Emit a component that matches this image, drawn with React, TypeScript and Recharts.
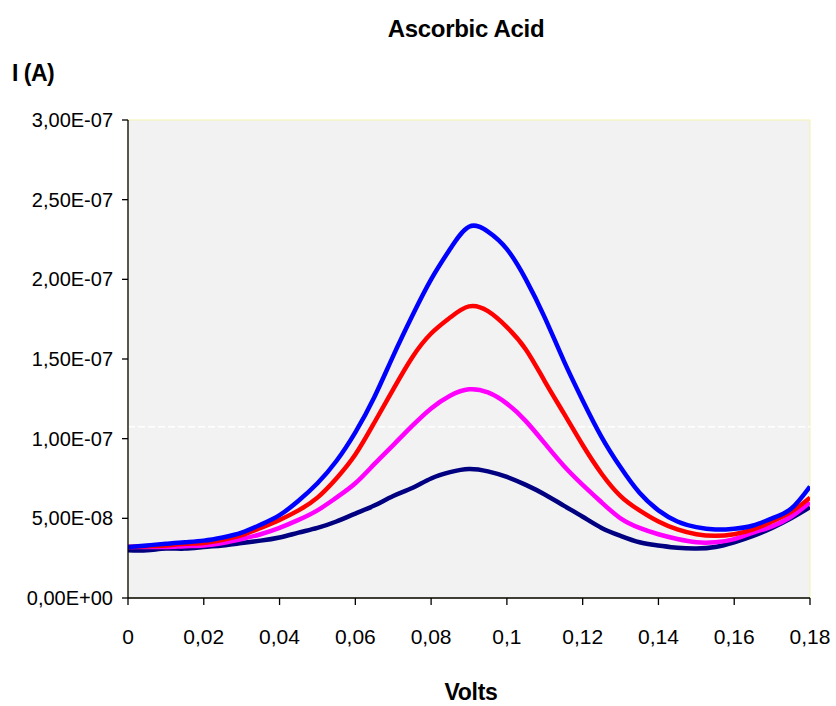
/**
 * Ascorbic Acid — voltammogram curves, current (A) vs potential (V).
 */
import { LineChart, Line, XAxis, YAxis, CartesianGrid, ReferenceArea, ReferenceLine } from 'recharts'

// values; currents in units of 1e-8 A
const UNIT = 1e-8

const VOLTS = [
  0, 0.005, 0.01, 0.015, 0.02, 0.025, 0.03, 0.035, 0.04, 0.045,
  0.05, 0.055, 0.06, 0.065, 0.07, 0.075, 0.08, 0.085, 0.09, 0.095,
  0.1, 0.105, 0.11, 0.115, 0.12, 0.125, 0.13, 0.135, 0.14, 0.145,
  0.15, 0.155, 0.16, 0.165, 0.17, 0.175, 0.18,
]

const BLUE = [
  3.2, 3.3, 3.4, 3.5, 3.6, 3.8, 4.1, 4.6, 5.2, 6.1,
  7.2, 8.6, 10.4, 12.6, 15.2, 17.7, 20.0, 21.9, 23.3, 23.0,
  21.9, 20.0, 17.6, 14.9, 12.4, 10.1, 8.2, 6.6, 5.5, 4.8,
  4.45, 4.3, 4.35, 4.55, 5.0, 5.6, 7.0,
]

const RED = [
  3.2, 3.25, 3.3, 3.4, 3.45, 3.65, 3.95, 4.4, 4.9, 5.5,
  6.3, 7.5, 9.0, 11.0, 13.1, 15.1, 16.6, 17.6, 18.3, 18.0,
  17.0, 15.6, 13.6, 11.6, 9.6, 7.8, 6.4, 5.5, 4.8, 4.3,
  4.0, 3.9, 4.0, 4.3, 4.8, 5.4, 6.3,
]

const MAGENTA = [
  3.2, 3.2, 3.2, 3.25, 3.3, 3.45, 3.7, 4.0, 4.4, 4.9,
  5.5, 6.3, 7.2, 8.4, 9.6, 10.8, 11.9, 12.7, 13.1, 12.9,
  12.2, 11.1, 9.7, 8.3, 7.1, 6.0, 5.0, 4.4, 4.0, 3.7,
  3.5, 3.5, 3.7, 4.1, 4.5, 5.1, 6.0,
]

const NAVY = [
  3.0, 3.0, 3.1, 3.1, 3.2, 3.3, 3.45, 3.6, 3.8, 4.1,
  4.4, 4.8, 5.3, 5.8, 6.4, 6.9, 7.5, 7.9, 8.1, 7.95,
  7.6, 7.1, 6.5, 5.8, 5.1, 4.4, 3.9, 3.5, 3.3, 3.15,
  3.1, 3.2, 3.5, 3.9, 4.4, 5.0, 5.7,
]

const X_TICKS = [0, 0.02, 0.04, 0.06, 0.08, 0.1, 0.12, 0.14, 0.16, 0.18]
const Y_TICKS = [0, 5e-8, 1e-7, 1.5e-7, 2e-7, 2.5e-7, 3e-7]

const data = VOLTS.map((v, i) => ({
  v,
  blue: BLUE[i] * UNIT,
  red: RED[i] * UNIT,
  magenta: MAGENTA[i] * UNIT,
  navy: NAVY[i] * UNIT,
}))

const FONT = '"Liberation Sans", Arial, sans-serif'

// 3e-7 -> "3,00E-07"
const fmtSci = (v: number) => {
  const [m, e] = v.toExponential(2).split('e')
  const sign = e[0] === '-' ? '-' : '+'
  const digits = e.replace(/[+-]/, '').padStart(2, '0')
  return `${m.replace('.', ',')}E${sign}${digits}`
}

const fmtVolts = (v: number) => String(Number(v.toFixed(2))).replace('.', ',')

export default function App() {
  return (
    <div style={{ position: 'absolute', left: 0, top: 0, width: 836, height: 706, background: '#fff', fontFamily: FONT }}>
      <div style={{ position: 'absolute', left: 0, width: 932, top: 17, textAlign: 'center', fontSize: 24, fontWeight: 700, lineHeight: 1, letterSpacing: -0.3 }}>
        Ascorbic Acid
      </div>
      <div style={{ position: 'absolute', left: 12, top: 62, fontSize: 23, fontWeight: 700, lineHeight: 1, letterSpacing: -0.5 }}>
        I (A)
      </div>
      <div style={{ position: 'absolute', left: 0, width: 942, top: 681, textAlign: 'center', fontSize: 23, fontWeight: 700, lineHeight: 1, letterSpacing: -0.3 }}>
        Volts
      </div>

      <LineChart width={836} height={706} data={data} margin={{ top: 120, right: 26, bottom: 0, left: 0 }}>
        <CartesianGrid horizontal={false} vertical={false} fill="#f2f2f2" />
        <ReferenceArea x1={0} x2={0.18} y1={0} y2={3e-7} fill="#f2f2f2" fillOpacity={1} stroke="#f3f3b0" strokeWidth={1} />
        <ReferenceLine
          segment={[{ x: 0, y: 1.075e-7 }, { x: 0.18, y: 1.075e-7 }]}
          stroke="#ffffff"
          strokeWidth={1.5}
          strokeDasharray="7 3"
        />
        <XAxis
          dataKey="v"
          type="number"
          domain={[0, 0.18]}
          ticks={X_TICKS}
          tickFormatter={fmtVolts}
          height={108}
          axisLine={{ stroke: '#000', strokeWidth: 1.3 }}
          tickLine={{ stroke: '#000', strokeWidth: 1.3 }}
          tickSize={7}
          tickMargin={24}
          tick={{ fill: '#000', fontSize: 21, fontFamily: FONT }}
          interval={0}
          allowDataOverflow
        />
        <YAxis
          type="number"
          domain={[0, 3e-7]}
          ticks={Y_TICKS}
          tickFormatter={fmtSci}
          width={128}
          axisLine={{ stroke: '#000', strokeWidth: 1.3 }}
          tickLine={{ stroke: '#000', strokeWidth: 1.3 }}
          tickSize={6}
          tickMargin={9}
          tick={{ fill: '#000', fontSize: 20, fontFamily: FONT }}
          interval={0}
          allowDataOverflow
        />
        <Line type="natural" dataKey="navy" stroke="#000080" strokeWidth={4.5} dot={false} isAnimationActive={false} />
        <Line type="natural" dataKey="magenta" stroke="#ff00ff" strokeWidth={4.5} dot={false} isAnimationActive={false} />
        <Line type="natural" dataKey="red" stroke="#ff0000" strokeWidth={4.5} dot={false} isAnimationActive={false} />
        <Line type="natural" dataKey="blue" stroke="#0000ff" strokeWidth={4.5} dot={false} isAnimationActive={false} />
      </LineChart>
    </div>
  )
}
